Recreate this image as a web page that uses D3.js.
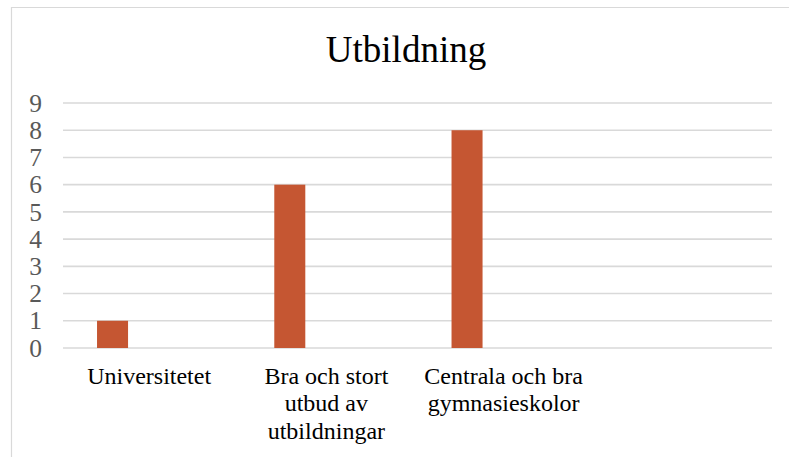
<!DOCTYPE html>
<html>
<head>
<meta charset="utf-8">
<script src="https://cdn.jsdelivr.net/npm/d3@7"></script>
<style>
  body { margin: 0; background: #fff; }
  svg { display: block; }
</style>
</head>
<body>
<div id="chart"></div>
<script>
// chart data
var title = "Utbildning";
var categories = ["Universitetet", "Bra och stort utbud av utbildningar", "Centrala och bra gymnasieskolor", ""];
var values = [1, 6, 8, null];
var yTicks = [0, 1, 2, 3, 4, 5, 6, 7, 8, 9];

var width = 789, height = 457;
var plot = { left: 63, right: 772, top: 103, bottom: 348 };
var serif = "'Liberation Serif', 'Times New Roman', serif";

var svg = d3.select("#chart").append("svg")
    .attr("width", width)
    .attr("height", height);

// chart frame (top and left edges are visible)
svg.append("path")
    .attr("d", "M11.5," + height + "V7.5H" + width)
    .attr("fill", "none")
    .attr("stroke", "#d9d9d9")
    .attr("stroke-width", 1.2);

var x = d3.scaleBand().domain(categories).range([plot.left, plot.right]).padding(0);
var y = d3.scaleLinear().domain([0, 9]).range([plot.bottom, plot.top]);

// gridlines
svg.append("g")
    .selectAll("line")
    .data(yTicks)
    .enter()
    .append("line")
    .attr("x1", plot.left)
    .attr("x2", plot.right)
    .attr("y1", function (d) { return y(d); })
    .attr("y2", function (d) { return y(d); })
    .attr("stroke", "#d9d9d9")
    .attr("stroke-width", 1.6);

// y axis labels
var yAxis = svg.append("g")
    .attr("transform", "translate(" + (plot.left - 21) + ",0)")
    .call(d3.axisLeft(y).tickValues(yTicks).tickSize(0).tickPadding(0));
yAxis.select(".domain").remove();
yAxis.selectAll("text")
    .style("font-family", serif)
    .style("font-size", "25.5px")
    .attr("fill", "#595959");

// bars
var bw = x.bandwidth();
svg.append("g")
    .selectAll("rect")
    .data(categories.map(function (c, i) { return { cat: c, v: values[i] }; })
        .filter(function (d) { return d.v != null; }))
    .enter()
    .append("rect")
    .attr("x", function (d) { return x(d.cat) + bw * 0.192; })
    .attr("width", bw * 0.175)
    .attr("y", function (d) { return y(d.v); })
    .attr("height", function (d) { return y(0) - y(d.v); })
    .attr("fill", "#c55632");

// category labels, wrapped
var maxW = 165;
var labels = svg.append("g")
    .selectAll("text")
    .data(categories.filter(function (c) { return c !== ""; }))
    .enter()
    .append("text")
    .attr("text-anchor", "middle")
    .style("font-family", serif)
    .style("font-size", "24px")
    .attr("fill", "#000");

labels.each(function (c) {
    var t = d3.select(this);
    var cx = x(c) + bw / 2 - 2.5;
    var words = c.split(" ");
    var lines = [], line = [];
    var probe = t.append("tspan");
    words.forEach(function (w) {
        line.push(w);
        probe.text(line.join(" "));
        if (probe.node().getComputedTextLength() > maxW && line.length > 1) {
            line.pop();
            lines.push(line.join(" "));
            line = [w];
        }
    });
    lines.push(line.join(" "));
    probe.remove();
    lines.forEach(function (l, i) {
        t.append("tspan")
            .attr("x", cx)
            .attr("y", 384 + i * 27.3)
            .text(l);
    });
});

// title
svg.append("text")
    .attr("x", 406)
    .attr("y", 62)
    .attr("text-anchor", "middle")
    .style("font-family", serif)
    .style("font-size", "37px")
    .attr("fill", "#000")
    .text(title);
</script>
</body>
</html>
